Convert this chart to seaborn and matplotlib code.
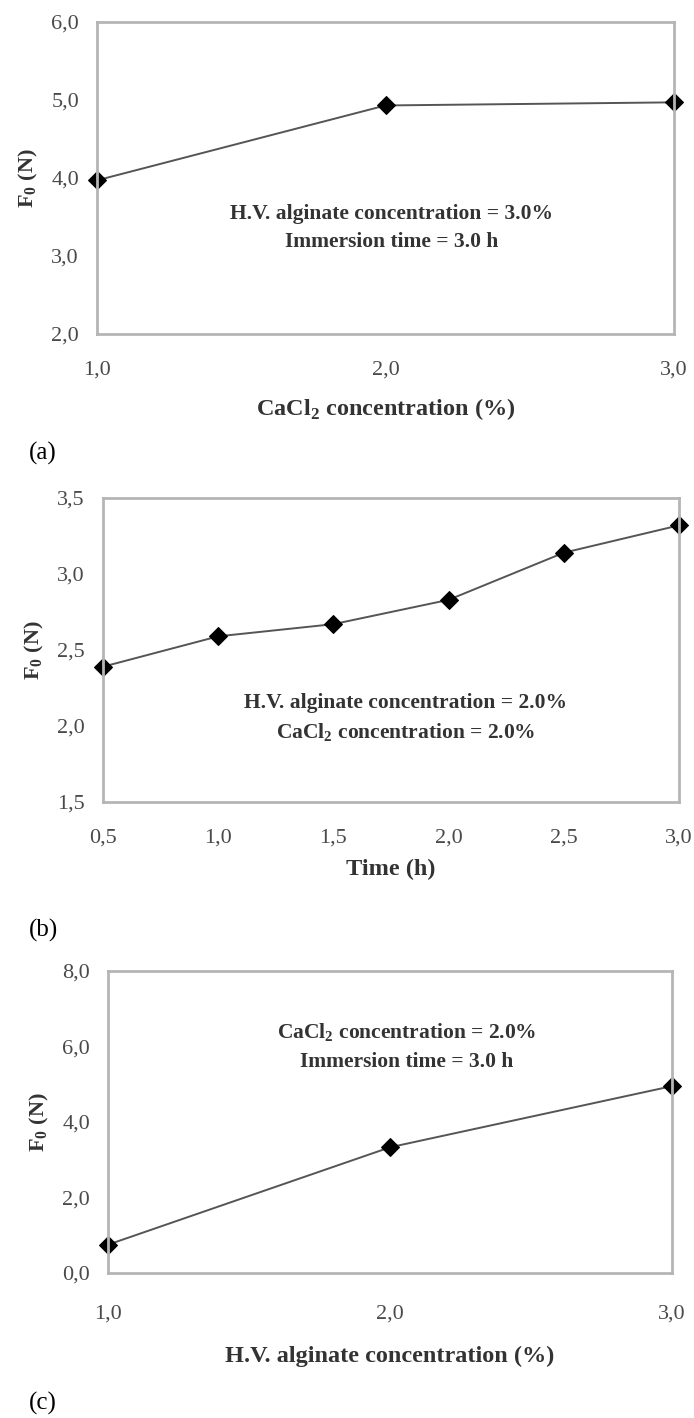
import numpy as np
import pandas as pd
import matplotlib
matplotlib.use("Agg")
import matplotlib.pyplot as plt
import seaborn as sns

sns.set_style("white")
plt.rcParams["font.family"] = ["Liberation Serif", "DejaVu Serif"]
plt.rcParams["mathtext.fontset"] = "custom"
plt.rcParams["mathtext.rm"] = "Liberation Serif"
plt.rcParams["mathtext.bf"] = "Liberation Serif:bold"

# =========================
# DATA
# =========================

cacl2_conc = [1.0, 2.0, 3.0]
f0_cacl2 = [3.97, 4.93, 4.97]

time_h = [0.5, 1.0, 1.5, 2.0, 2.5, 3.0]
f0_time = [2.39, 2.59, 2.67, 2.83, 3.14, 3.32]

alginate_conc = [1.0, 2.0, 3.0]
f0_alginate = [0.75, 3.33, 4.95]

panel_a_ticks_y = [2.0, 3.0, 4.0, 5.0, 6.0]
panel_b_ticks_y = [1.5, 2.0, 2.5, 3.0, 3.5]
panel_c_ticks_y = [0.0, 2.0, 4.0, 6.0, 8.0]

W, H = 694, 1418
fig = plt.figure(figsize=(W / 100, H / 100), dpi=100)


def px_axes(left, top, right, bottom):
    return fig.add_axes([left / W, 1 - bottom / H, (right - left) / W, (bottom - top) / H])


def fmt(v):
    return f"{v:.1f}".replace(".", ",")


def draw_panel(ax, x, y, xticks, yticks, xlabel, note, note_pos, letter, letter_y,
               xpad=14, labelpad=10):
    df = pd.DataFrame({"x": x, "y": y})
    sns.lineplot(data=df, x="x", y="y", ax=ax, color="#555555", linewidth=1.4,
                 marker="D", markersize=9.5, markerfacecolor="black",
                 markeredgecolor="black", clip_on=False)
    ax.set_xlim(xticks[0], xticks[-1])
    ax.set_ylim(yticks[0], yticks[-1])
    ax.set_xticks(xticks)
    ax.set_yticks(yticks)
    ax.set_xticklabels([fmt(v) for v in xticks])
    ax.set_yticklabels([fmt(v) for v in yticks])
    ax.tick_params(axis="both", labelsize=16, colors="#cccccc", labelcolor="#4a4a4a",
                   length=3, width=1, direction="out")
    ax.tick_params(axis="x", pad=xpad)
    ax.tick_params(axis="y", pad=10)
    for s in ax.spines.values():
        s.set_color("#b5b5b5")
        s.set_linewidth(2)
    ax.set_xlabel(xlabel, fontsize=17.5, fontweight="bold", color="#333333", labelpad=labelpad)
    ax.set_ylabel(r"$\mathbf{F_0}$ (N)", fontsize=16, fontweight="bold", color="#333333", labelpad=8)
    ax.text(note_pos[0], note_pos[1], note, transform=ax.transAxes, ha="center", va="center",
            fontsize=15.5, fontweight="bold", color="#333333", linespacing=1.5)
    fig.text(29 / W, 1 - letter_y / H, letter, fontsize=18, ha="left", va="center", color="black")


ax_a = px_axes(97, 22, 674, 334)
draw_panel(ax_a, cacl2_conc, f0_cacl2, [1.0, 2.0, 3.0], panel_a_ticks_y,
           r"CaCl$_\mathbf{2}$ concentration (%)",
           "H.V. alginate concentration = 3.0%\nImmersion time = 3.0 h",
           (0.51, 0.34), "(a)", 453, xpad=16, labelpad=12)

ax_b = px_axes(103, 498, 679, 802)
draw_panel(ax_b, time_h, f0_time, [0.5, 1.0, 1.5, 2.0, 2.5, 3.0], panel_b_ticks_y,
           "Time (h)",
           "H.V. alginate concentration = 2.0%\n" + r"CaCl$_\mathbf{2}$ concentration = 2.0%",
           (0.525, 0.275), "(b)", 930, xpad=16, labelpad=8)

ax_c = px_axes(108, 971, 672, 1273)
draw_panel(ax_c, alginate_conc, f0_alginate, [1.0, 2.0, 3.0], panel_c_ticks_y,
           "H.V. alginate concentration (%)",
           r"CaCl$_\mathbf{2}$ concentration = 2.0%" + "\nImmersion time = 3.0 h",
           (0.53, 0.75), "(c)", 1403, xpad=20, labelpad=16)

fig.savefig("out.png", dpi=100, facecolor="white")
